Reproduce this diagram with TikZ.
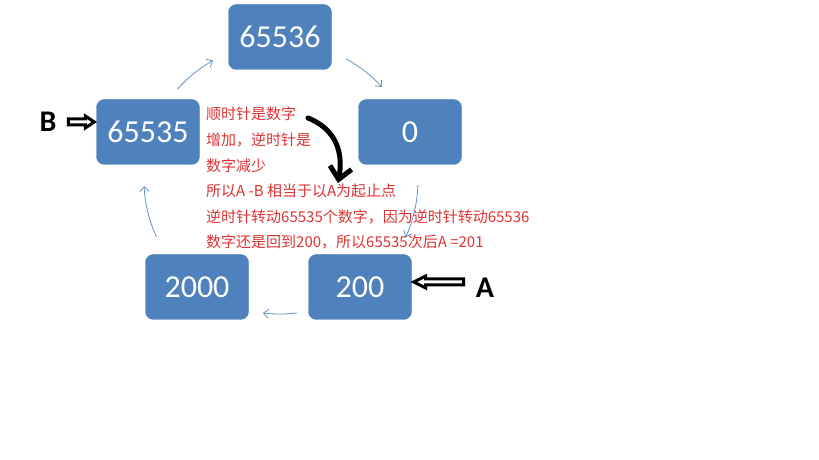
\documentclass[tikz,border=0pt]{standalone}
\usepackage{fontspec}
\setmainfont{Carlito}
\newfontfamily\cjk{Noto Sans CJK SC}
\usetikzlibrary{arrows.meta,calc}
\definecolor{boxblue}{RGB}{79,129,189}
\definecolor{flowblue}{RGB}{100,145,200}
\definecolor{notered}{RGB}{222,52,52}
\tikzset{
  numbox/.style={fill=boxblue, draw=boxblue, rounded corners=8pt, minimum width=103pt, minimum height=65pt, text=white, font=\fontsize{32}{38}\selectfont, inner sep=0pt},
  flow/.style={draw=flowblue, line width=0.8pt, -{Straight Barb[length=5pt,width=9pt,line width=0.8pt]}},
  blockarrow/.style={draw=black, fill=white, line width=3pt, line join=miter},
  letter/.style={font=\bfseries\fontsize{30}{36}\selectfont, text=black, inner sep=0pt},
  note/.style={text=notered, font=\cjk\fontsize{15}{25.6}\selectfont, align=left, inner sep=0pt}
}
\begin{document}
\begin{tikzpicture}[x=1pt,y=1pt]
\useasboundingbox[fill=white] (0,0) rectangle (819,460);
\node[numbox] (n65536) at (280,423) {65536};
\node[numbox] (n65535) at (148,328) {65535};
\node[numbox] (n0) at (410,328) {0};
\node[numbox] (n2000) at (197,173) {2000};
\node[numbox] (n200) at (360,173) {200};

\coordinate (C) at (280,280);
\coordinate (a1) at ($(C)+(138.5:137)$);
\coordinate (a2) at ($(C)+(61.4:138)$);
\coordinate (a3) at ($(C)+(-2.1:138)$);
\coordinate (a4) at ($(C)+(-82.7:134)$);
\coordinate (a5) at ($(C)+(204.7:136)$);
\draw[flow] (a1) arc[start angle=138.5, end angle=119.3, radius=137];
\draw[flow] (a2) arc[start angle=61.4, end angle=42.4, radius=138];
\draw[flow] (a3) arc[start angle=-2.1, end angle=-24.5, radius=138];
\draw[flow] (a4) arc[start angle=-82.7, end angle=-97.3, radius=134];
\draw[flow] (a5) arc[start angle=204.7, end angle=182.5, radius=136];

\node[note, anchor=north west] (txt) at (206,353) {顺时针是数字\\增加，逆时针是\\数字减少\\所以A -B 相当于以A为起止点\\逆时针转动65535个数字，因为逆时针转动65536\\数字还是回到200，所以65535次后A =201};

\coordinate (bs) at (308,342);
\coordinate (be) at (338,277);
\draw[line width=5pt, line cap=round, -{Straight Barb[length=12pt,width=22pt,line width=5pt]}] (bs) .. controls (338,330) and (343,305) .. (be);

\node[letter] (B) at (48,338) {B};
\coordinate (bt) at ($(n65535.west)+(-2,10)$);
\draw[blockarrow] (bt) -- ++(-9,6) -- ++(0,-3) -- ++(-17,0) -- ++(0,-6) -- ++(17,0) -- ++(0,-3) -- cycle;
\node[letter] (A) at (485,172) {A};
\coordinate (at) at ($(n200.east)+(2,5)$);
\draw[blockarrow] (at) -- ++(12,6) -- ++(0,-3) -- ++(38,0) -- ++(0,-6) -- ++(-38,0) -- ++(0,-3) -- cycle;
\end{tikzpicture}
\end{document}
